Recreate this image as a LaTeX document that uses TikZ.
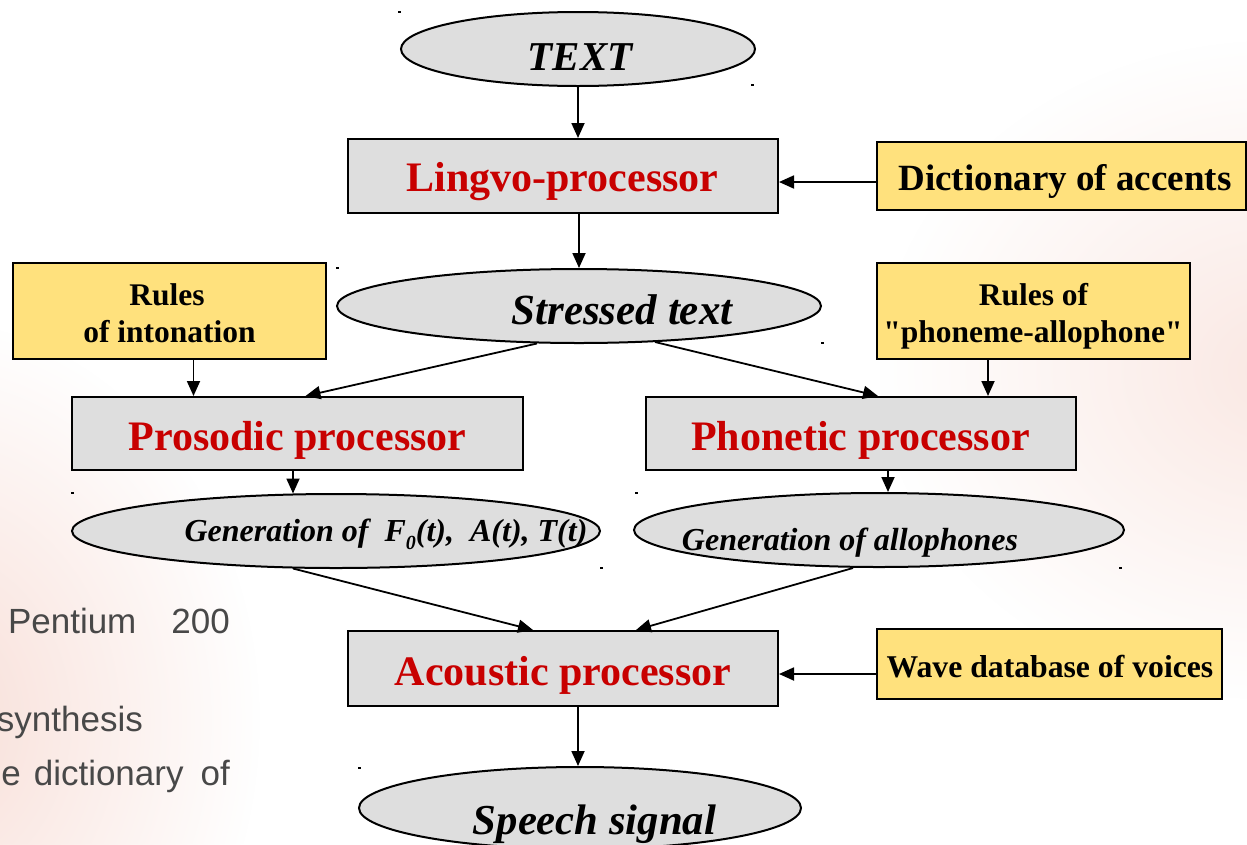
\documentclass[tikz,border=0pt]{standalone}
\usepackage{fontspec}
\setmainfont{Liberation Serif}
\newfontfamily\slidesans{Liberation Sans}
\usetikzlibrary{shapes.geometric,arrows.meta,calc,fadings}

% straight typewriter double quote, kept out of the TeX ligature mapping
\newcommand\straightdq{\XeTeXglyph\XeTeXcharglyph"0022\relax}

\definecolor{boxgray}{RGB}{222,222,222}
\definecolor{noteyellow}{RGB}{255,225,125}
\definecolor{procred}{RGB}{200,0,0}
\definecolor{slidetext}{RGB}{72,72,72}
\definecolor{glowpink}{RGB}{248,222,215}

\tikzfading[name=softglow, inner color=transparent!0, outer color=transparent!100]

\begin{document}
\begin{tikzpicture}[x=1pt,y=-1pt,
  procbox/.style={rectangle, draw=black, line width=2pt, fill=boxgray, inner sep=0pt},
  notebox/.style={rectangle, draw=black, line width=2pt, fill=noteyellow, inner sep=0pt},
  stage/.style={ellipse, draw=black, line width=2pt, fill=boxgray, inner sep=0pt},
  arr/.style={line width=1.8pt, -{Triangle[length=15pt,width=13pt]}},
  procT/.style={anchor=base, inner sep=0pt, text=procred, font=\fontsize{42}{48}\selectfont\bfseries},
  noteT/.style={anchor=base, inner sep=0pt, font=\fontsize{31.5}{37}\selectfont\bfseries},
  stageT/.style={anchor=base, inner sep=0pt, font=\fontsize{42}{48}\selectfont\bfseries\itshape},
  genT/.style={anchor=base, inner sep=0pt, font=\fontsize{32}{38}\selectfont\bfseries\itshape},
  slideT/.style={anchor=base east, inner sep=0pt, text=slidetext, font=\slidesans\fontsize{35}{42}\selectfont},
  dot/.style={fill=black}
]
\useasboundingbox (0,0) rectangle (1247,844);
\clip (0,0) rectangle (1247,844);

% slide background with soft glows
\fill[white] (0,0) rectangle (1247,844);
\fill[glowpink, path fading=softglow] (-70,720) ellipse [x radius=330pt, y radius=400pt];
\fill[glowpink!70, path fading=softglow] (1280,370) ellipse [x radius=400pt, y radius=330pt];

% slide body text partly hidden behind the chart
\node[slideT] (cpu) at (230,633) {Pentium\hspace{35pt}200};
\node[slideT] (synth) at (143,731) {synthesis};
\node[slideT] (dictline) at (230,785) {e\hspace{13pt}dictionary\hspace{17pt}of};

% processors and rule sources
\node[procbox, minimum width=430pt, minimum height=74pt] (lingvo) at (563,176) {};
\node[notebox, minimum width=369pt, minimum height=68pt] (dict) at (1061.5,176) {};
\node[notebox, minimum width=313pt, minimum height=96pt] (rulesI) at (169.5,311) {};
\node[notebox, minimum width=313pt, minimum height=96pt] (rulesP) at (1033.5,311) {};
\node[procbox, minimum width=451pt, minimum height=73pt] (prosodic) at (297.5,433.5) {};
\node[procbox, minimum width=430pt, minimum height=73pt] (phonetic) at (861,433.5) {};
\node[procbox, minimum width=430pt, minimum height=75pt] (acoustic) at (563,668.5) {};
\node[notebox, minimum width=345pt, minimum height=70pt] (wave) at (1049.5,664) {};

% data stages
\node[stage, minimum width=354pt, minimum height=74pt] (textE) at (578,49) {};
\node[stage, minimum width=484pt, minimum height=74pt] (stressed) at (579,306) {};
\node[stage, minimum width=528pt, minimum height=74pt] (genF) at (336,531) {};
\node[stage, minimum width=490pt, minimum height=74pt] (genA) at (879,530) {};
\node[stage, minimum width=442pt, minimum height=82pt] (speech) at (580,808) {};

% labels
\node[stageT, font=\fontsize{41}{48}\selectfont\bfseries\itshape] (textL) at (580,70) {TEXT};
\node[procT] (lingvoL) at (562.5,191) {Lingvo-processor};
\node[noteT, font=\fontsize{37}{44}\selectfont\bfseries] (dictL) at (1065,190) {Dictionary of accents};
\node[stageT, font=\fontsize{43}{48}\selectfont\bfseries\itshape] (stressedL) at (622,324) {Stressed text};
\node[noteT] (rulesIa) at (167,305) {Rules};
\node[noteT] (rulesIb) at (169.5,342) {of intonation};
\node[noteT] (rulesPa) at (1033.5,305) {Rules of};
\node[noteT] (rulesPb) at (1033,342) {\straightdq phoneme-allophone\straightdq};
\node[procT] (prosodicL) at (297.5,450) {Prosodic processor};
\node[procT] (phoneticL) at (860.5,450) {Phonetic processor};
\node[genT] (genFL) at (386,541) {Generation of\ \ F\raisebox{-0.28em}{\fontsize{20}{20}\selectfont 0}(t),\ \ A(t), T(t)};
\node[genT] (genAL) at (850,550) {Generation of allophones};
\node[procT] (acousticL) at (563,685) {Acoustic processor};
\node[noteT, font=\fontsize{31.7}{38}\selectfont\bfseries] (waveL) at (1050,677) {Wave database of voices};
\node[stageT, font=\fontsize{42.7}{48}\selectfont\bfseries\itshape] (speechL) at (594.5,834) {Speech signal};

% flow of data
\draw[arr] (textE.south) -- (textE.south |- lingvo.north);
\draw[arr] (stressed.north |- lingvo.south) -- (stressed.north);
\draw[arr] ($(dict.west)+(0,6)$) -- ($(lingvo.east)+(0,6)$);
\draw[arr] ($(rulesI.south)+(24,0)$) -- ($(prosodic.north)+(-104,0)$);
\draw[arr] ($(rulesP.south)+(-45.5,0)$) -- ($(phonetic.north)+(127,0)$);
\draw[arr] ($(stressed.south)+(-42,-0.5)$) -- ($(prosodic.north)+(8,0)$);
\draw[arr] ($(stressed.south)+(76,-2)$) -- ($(phonetic.north)+(17,0)$);
\draw[arr] ($(prosodic.south)+(-4.5,0)$) -- ($(genF.north)+(-43,0.5)$);
\draw[arr] ($(phonetic.south)+(27,0)$) -- ($(genA.north)+(9,0)$);
\draw[arr] ($(genF.south)+(-43,-0.5)$) -- ($(acoustic.north)+(-30,0)$);
\draw[arr] ($(genA.south)+(-26,0)$) -- ($(acoustic.north)+(73,0)$);
\draw[arr] ($(wave.west)+(0,10)$) -- ($(acoustic.east)+(0,5.5)$);
\draw[arr] ($(acoustic.south)+(15,0)$) -- ($(speech.north)+(-2,0)$);

% corner marks of the stage frames
\foreach \px/\py in {398/11, 751/84, 336/267, 821/342, 71/492, 635/492, 600/567, 1119/567, 358/767}
  \fill[dot] (\px,\py) rectangle ++(3,2);
\end{tikzpicture}
\end{document}
